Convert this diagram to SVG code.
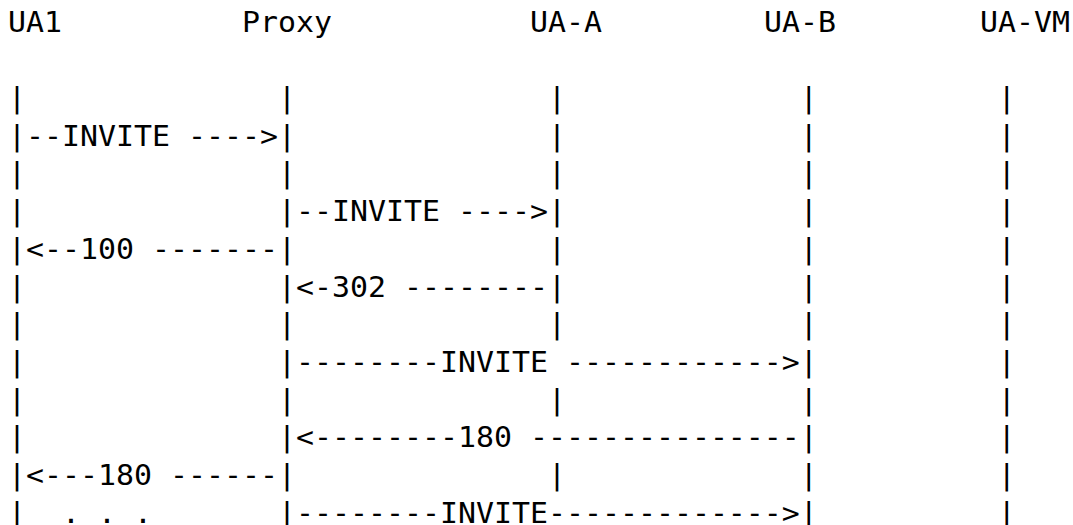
<svg xmlns="http://www.w3.org/2000/svg" width="1073" height="525" viewBox="0 0 1073 525">
<style>
text{font-family:"DejaVu Sans Mono","Liberation Mono",monospace;font-size:27.5px;fill:#000;white-space:pre}
</style>
<rect width="1073" height="525" fill="#fff"/>
<g transform="translate(8,0) scale(1.0872,1)">
<g id="UA1"><text x="0" y="32.5">UA1</text></g>
<g id="Proxy"><text x="215.24" y="32.5">Proxy</text></g>
<g id="UA-A"><text x="480.15" y="32.5">UA-A</text></g>
<g id="UA-B"><text x="695.39" y="32.5">UA-B</text></g>
<g id="UA-VM"><text x="894.08" y="32.5">UA-VM</text></g>
<g id="connectors" xml:space="preserve">
<text x="0" y="107.9">|              |              |             |          |</text>
<text x="0" y="145.6">|--INVITE ----&gt;|              |             |          |</text>
<text x="0" y="183.3">|              |              |             |          |</text>
<text x="0" y="221.0">|              |--INVITE ----&gt;|             |          |</text>
<text x="0" y="258.9">|&lt;--100 -------|              |             |          |</text>
<text x="0" y="296.6">|              |&lt;-302 --------|             |          |</text>
<text x="0" y="334.3">|              |              |             |          |</text>
<text x="0" y="372.0">|              |--------INVITE ------------&gt;|          |</text>
<text x="0" y="409.7">|              |              |             |          |</text>
<text x="0" y="447.4">|              |&lt;--------180 ---------------|          |</text>
<text x="0" y="485.1">|&lt;---180 ------|              |             |          |</text>
<text x="0" y="522.8">|  . . .       |--------INVITE-------------&gt;|          |</text>
</g>
</g>
</svg>
